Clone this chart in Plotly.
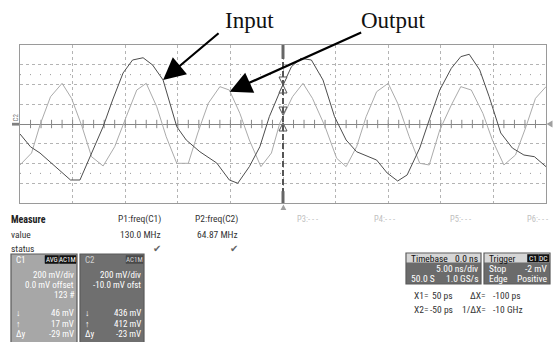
import plotly.graph_objects as go

# ---------------- data ----------------
input_t_ns = [-25.0, -24.0, -23.1, -20.2, -19.3, -18.0, -17.1, -16.2, -15.2, -14.3, -13.3, -12.4,
              -11.4, -10.1, -9.2, -7.9, -6.3, -5.1, -4.3, -3.2, -2.2, -1.3, -0.3, 0.8, 1.7, 2.7,
              3.8, 4.9, 6.0, 7.0, 8.9, 9.9, 10.9, 11.8, 13.0, 13.9, 14.9, 16.0, 16.9, 17.7, 18.7,
              19.6, 20.7, 21.8, 22.9, 23.9, 25.0]
input_mV = [-101, -231, -294, -567, -567, -243, -27, 243, 517, 648, 671, 598,
            446, -27, -162, -281, -395, -567, -600, -432, -230, 74, 327, 580, 665, 648,
            446, 74, -162, -281, -365, -496, -577, -516, -243, 41, 344, 564, 682, 706, 547,
            276, -91, -243, -314, -331, -432]

output_t_ns = [-25.0, -23.9, -23.1, -22.1, -21.0, -20.1, -19.1, -18.2, -17.1, -16.0, -14.9, -13.9,
               -13.0, -12.0, -11.1, -10.1, -9.0, -8.1, -7.1, -6.0, -5.1, -4.1, -3.2, -2.1, -1.1,
               -0.3, 0.9, 1.9, 2.8, 4.0, 5.1, 6.0, 7.0, 7.9, 8.9, 10.0, 10.9, 12.0, 13.0, 13.9,
               14.9, 16.0, 16.9, 17.9, 19.0, 19.9, 21.0, 22.1, 23.1, 24.0, 25.0]
output_mV = [-415, -294, -10, 276, 412, 260, -27, -331, -425, -230, 74, 344,
             412, 175, -129, -398, -398, -91, 210, 378, 344, 108, -162, -432, -294,
             10, 276, 412, 260, -27, -347, -432, -230, 74, 327, 412, 210, -129, -398, -415,
             -61, 192, 378, 344, 108, -162, -415, -314, -27, 260, 378]

cursor_t_ns = [0.0]
cursor_down_mV = [395, 91]
cursor_up_mV = [395, 10]

measure_params = ["P1:freq(C1)", "P2:freq(C2)"]
measure_values = ["130.0 MHz", "64.87 MHz"]
empty_params = ["P3:- - -", "P4:- - -", "P5:- - -", "P6:- - -"]

c1_lines = ["200 mV/div", "0.0 mV offset", "123 #"]
c1_cursor = ["46 mV", "17 mV", "-29 mV"]
c2_lines = ["200 mV/div", "-10.0 mV ofst"]
c2_cursor = ["436 mV", "412 mV", "-23 mV"]
cursor_labels = ["\u2193", "\u2191", "\u0394y"]

# ---------------- geometry helpers ----------------
W, H = 553, 342
L, R, T, B = 20, 7, 45, 139
PW = W - L - R
PH = H - T - B


def px(xp):
    return (xp - L) / PW


def py(yp):
    return (H - B - yp) / PH


FONT = "Liberation Sans Narrow, Roboto Condensed, Liberation Sans, Arial"
FS = 9.5

fig = go.Figure()

# center-line ticks (decoration, every 0.2 div)
fig.add_trace(go.Scatter(x=[t for t in range(-24, 25)], y=[0] * 49, mode="markers",
                         marker=dict(symbol="line-ns", size=6, line=dict(color="#888", width=1)),
                         hoverinfo="skip", showlegend=False))

fig.add_trace(go.Scatter(x=output_t_ns, y=output_mV, mode="lines",
                         line=dict(color="#ababab", width=1), showlegend=False))
fig.add_trace(go.Scatter(x=input_t_ns, y=input_mV, mode="lines",
                         line=dict(color="#4d4d4d", width=1), showlegend=False))

# cursor markers
fig.add_trace(go.Scatter(x=cursor_t_ns * 2, y=cursor_down_mV, mode="markers",
                         marker=dict(symbol="arrow-down", size=8, color="white",
                                     line=dict(color="#555", width=1)),
                         showlegend=False, cliponaxis=False))
fig.add_trace(go.Scatter(x=cursor_t_ns * 2, y=cursor_up_mV, mode="markers",
                         marker=dict(symbol="arrow-up", size=8, color="white",
                                     line=dict(color="#555", width=1)),
                         showlegend=False, cliponaxis=False))

shapes = []
# sparse dotted rows at +/-2.5 div
for v in (500, -500):
    shapes.append(dict(type="line", xref="x", yref="y", x0=-25, x1=25, y0=v, y1=v,
                       line=dict(color="#9a9a9a", width=1, dash="1px,9px")))
# cursor line
shapes.append(dict(type="line", xref="x", yref="y", x0=cursor_t_ns[0], x1=cursor_t_ns[0],
                   y0=-800, y1=800, line=dict(color="#555", width=2, dash="6px,3px")))
shapes.append(dict(type="line", xref="x", yref="y", x0=cursor_t_ns[0], x1=cursor_t_ns[0],
                   y0=800, y1=660, line=dict(color="#666", width=3)))
shapes.append(dict(type="line", xref="x", yref="y", x0=cursor_t_ns[0], x1=cursor_t_ns[0],
                   y0=-800, y1=-680, line=dict(color="#666", width=3)))
# bottom trigger triangle
shapes.append(dict(type="path", xref="paper", yref="paper",
                   path=f"M {px(283.4)} {py(204.5)} L {px(280.5)} {py(210)} L {px(286.3)} {py(210)} Z",
                   fillcolor="#a0a0a0", line=dict(width=0)))
# right-side level triangle
shapes.append(dict(type="path", xref="paper", yref="paper",
                   path=f"M {px(546.5)} {py(124)} L {px(552.5)} {py(120.5)} L {px(552.5)} {py(127.5)} Z",
                   fillcolor="#a0a0a0", line=dict(width=0)))
# left channel marker bar
shapes.append(dict(type="rect", xref="paper", yref="paper", x0=px(12), x1=px(19),
                   y0=py(122.8), y1=py(125.6), fillcolor="#808080", line=dict(width=0)))

annotations = []


def txt(x, y, s, anchor="left", color="#333", size=FS, bold=False, family=FONT):
    if bold:
        s = f"<b>{s}</b>"
    annotations.append(dict(xref="paper", yref="paper", x=px(x), y=py(y), text=s,
                            showarrow=False, xanchor=anchor, yanchor="middle",
                            font=dict(family=family, size=size, color=color)))


def box(x0, x1, y0, y1, fill, line="#5a5a5a", lw=1.2):
    shapes.append(dict(type="rect", xref="paper", yref="paper", x0=px(x0), x1=px(x1),
                       y0=py(y1), y1=py(y0), fillcolor=fill, line=dict(color=line, width=lw)))


# callouts
annotations.append(dict(xref="paper", yref="paper", x=px(249), y=py(20), text="Input",
                        showarrow=False, xanchor="center", yanchor="middle",
                        font=dict(family="Liberation Serif, Times New Roman", size=23, color="#111")))
annotations.append(dict(xref="paper", yref="paper", x=px(393), y=py(20), text="Output",
                        showarrow=False, xanchor="center", yanchor="middle",
                        font=dict(family="Liberation Serif, Times New Roman", size=23, color="#111")))
annotations.append(dict(x=-11.4, y=446, xref="x", yref="y", text="", showarrow=True,
                        arrowhead=2, arrowsize=2.0, arrowwidth=2.2, arrowcolor="#000",
                        ax=57, ay=-48, standoff=0))
annotations.append(dict(x=-5.07, y=327, xref="x", yref="y", text="", showarrow=True,
                        arrowhead=2, arrowsize=2.0, arrowwidth=2.2, arrowcolor="#000",
                        ax=133, ay=-60, standoff=0))

# channel label at left
annotations.append(dict(xref="paper", yref="paper", x=px(15), y=py(117.5), text="C2",
                        showarrow=False, textangle=-90, xanchor="center", yanchor="middle",
                        font=dict(family=FONT, size=7, color="#777")))

# measurement table
txt(9, 219, "Measure", bold=True, color="#222", size=10)
txt(9, 234, "value")
txt(9, 248, "status")
for xr, p, v in zip([163, 240], measure_params, measure_values):
    txt(xr, 219, p, anchor="right")
    txt(xr, 234, v, anchor="right")
    txt(xr - 6, 248, "\u2714", anchor="center", color="#666", size=10, family="DejaVu Sans")
for xl, p in zip([295, 372, 448, 525], empty_params):
    txt(xl, 219, p, color="#c0c0c0", size=8.5)

ROW = 9
# C1 box
box(11, 77, 254, 346, "#a7a7a7")
txt(14, 259.5, "C1", color="white", size=9)
box(45, 58.5, 255.5, 263.5, "#111", line="#111", lw=0.5)
box(59.5, 76, 255.5, 263.5, "#111", line="#111", lw=0.5)
txt(51.7, 259.6, "AVG", anchor="center", color="white", size=7)
txt(67.7, 259.6, "AC1M", anchor="center", color="white", size=7)
for i, s in enumerate(c1_lines):
    txt(75.5, 274.5 + 10 * i, s, anchor="right", color="white", size=ROW)
for i, (lab, s) in enumerate(zip(cursor_labels, c1_cursor)):
    txt(13.5, 313 + 10.5 * i, lab, color="white", size=ROW)
    txt(75.5, 313 + 10.5 * i, s, anchor="right", color="white", size=ROW)

# C2 box
box(80, 144, 254, 346, "#6f6f6f")
txt(83, 259.5, "C2", color="#cfcfcf", size=9)
box(126, 143, 255.5, 263.5, "#4a4a4a", line="#4a4a4a", lw=0.5)
txt(134.5, 259.6, "AC1M", anchor="center", color="#d8d8d8", size=7)
for i, s in enumerate(c2_lines):
    txt(142.5, 274.5 + 10 * i, s, anchor="right", color="white", size=ROW)
for i, (lab, s) in enumerate(zip(cursor_labels, c2_cursor)):
    txt(82.5, 313 + 10.5 * i, lab, color="white", size=ROW)
    txt(142.5, 313 + 10.5 * i, s, anchor="right", color="white", size=ROW)

# Timebase box
box(406, 481, 253, 284, "#6b6b6b")
box(406.6, 480.4, 253.6, 262.5, "#d6d6d6", line="#d6d6d6", lw=0)
txt(408.5, 258, "Timebase", color="#111")
txt(479.5, 258, "0.0 ns", anchor="right", color="#111")
txt(479.5, 268.5, "5.00 ns/div", anchor="right", color="white")
txt(408.5, 278.5, "50.0 S", color="white")
txt(479.5, 278.5, "1.0 GS/s", anchor="right", color="white")

# Trigger box
box(484, 550, 253, 284, "#6b6b6b")
box(484.6, 549.4, 253.6, 262.5, "#d6d6d6", line="#d6d6d6", lw=0)
txt(486.5, 258, "Trigger", color="#111")
box(527.5, 538, 254.5, 262, "#111", line="#111", lw=0.5)
box(538.5, 549, 254.5, 262, "#111", line="#111", lw=0.5)
txt(532.7, 258.3, "C1", anchor="center", color="white", size=7.5)
txt(543.7, 258.3, "DC", anchor="center", color="white", size=7.5)
txt(486.5, 268.5, "Stop", color="white")
txt(548.5, 268.5, "-2 mV", anchor="right", color="white")
txt(486.5, 278.5, "Edge", color="white")
txt(548.5, 278.5, "Positive", anchor="right", color="white")

# cursor readouts
txt(430, 295, "X1=", anchor="right")
txt(455, 295, "50 ps", anchor="right")
txt(488, 295, "\u0394X=", anchor="right")
txt(491, 295, "-100 ps")
txt(430, 309.5, "X2=", anchor="right")
txt(455, 309.5, "-50 ps", anchor="right")
txt(488, 309.5, "1/\u0394X=", anchor="right")
txt(491, 309.5, "-10 GHz")

fig.update_layout(
    width=W, height=H,
    margin=dict(l=L, r=R, t=T, b=B, pad=0),
    paper_bgcolor="white", plot_bgcolor="white",
    showlegend=False,
    shapes=shapes, annotations=annotations,
    xaxis=dict(range=[-25, 25], tick0=0, dtick=5, showgrid=True, gridcolor="#b4b4b4",
               griddash="dot", gridwidth=1, showticklabels=False, ticks="", zeroline=False,
               showline=True, linecolor="#9a9a9a", linewidth=1, mirror=True, fixedrange=True),
    yaxis=dict(range=[-800, 800], tick0=0, dtick=200, showgrid=True, gridcolor="#b4b4b4",
               griddash="dot", gridwidth=1, showticklabels=False, ticks="", zeroline=True,
               zerolinecolor="#858585", zerolinewidth=1,
               showline=True, linecolor="#9a9a9a", linewidth=1, mirror=True, fixedrange=True),
)

fig.write_html("out.html", config={"displayModeBar": False},
               post_script="document.body.style.margin='0';document.body.style.padding='0';")
